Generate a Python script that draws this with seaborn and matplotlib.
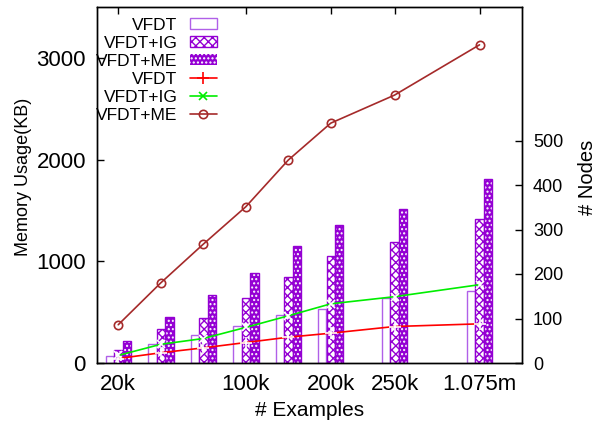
import numpy as np
import pandas as pd
import matplotlib
matplotlib.use("Agg")
import matplotlib.pyplot as plt
from matplotlib.patches import Patch, Rectangle
from matplotlib.lines import Line2D
import seaborn as sns

# ---- data ----
series = ["VFDT", "VFDT+IG", "VFDT+ME"]
x_pos = [0, 1, 2, 3, 4, 5, 6.5, 8.5]
x_labels = ["20k", "", "", "100k", "", "200k", "250k", "1.075m"]
mem_vfdt = [69, 187, 272, 361, 469, 528, 636, 711]
mem_ig = [128, 334, 439, 642, 843, 1052, 1187, 1413]
mem_me = [216, 449, 668, 888, 1150, 1357, 1514, 1806]
nodes_vfdt = [10, 23, 34, 46, 58, 67, 82, 88]
nodes_ig = [17, 42, 55, 80, 106, 133, 149, 176]
nodes_me = [86, 180, 267, 351, 456, 539, 602, 715]

sns.set_style("ticks")
plt.rcParams["font.family"] = ["Liberation Sans", "DejaVu Sans"]
plt.rcParams["hatch.linewidth"] = 1.0
for k in ["text.color", "axes.labelcolor", "xtick.color", "ytick.color", "axes.edgecolor"]:
    plt.rcParams[k] = "black"

PURPLE = "#9400d3"
LIGHT = "#b060e8"

fig = plt.figure(figsize=(5.98, 4.25), dpi=100)
ax = fig.add_axes([97/598, 62/425, (522-97)/598, (363-7)/425])

df = pd.DataFrame({
    "pos": x_pos * 3,
    "series": np.repeat(series, len(x_pos)),
    "memory": mem_vfdt + mem_ig + mem_me,
})
sns.barplot(data=df, x="pos", y="memory", hue="series", hue_order=series,
            native_scale=True, width=0.6, errorbar=None, legend=False,
            palette=[PURPLE] * 3, ax=ax, saturation=1)

conts = ax.containers
for p in conts[0]:
    p.set_facecolor("white"); p.set_edgecolor(LIGHT); p.set_linewidth(1.0)
for p in conts[1]:
    p.set_facecolor("white"); p.set_edgecolor(PURPLE); p.set_hatch("xxxx"); p.set_linewidth(1.0)
for p in conts[2]:
    p.set_facecolor(PURPLE); p.set_edgecolor("white"); p.set_hatch("...."); p.set_linewidth(0)
    ax.add_patch(Rectangle(p.get_xy(), p.get_width(), p.get_height(), fill=False,
                           edgecolor=PURPLE, linewidth=1.0, zorder=p.get_zorder() + 0.1))

ax.set_xlim(-0.5, 9.5)
ax.set_ylim(0, 3500)
ax.set_yticks([0, 1000, 2000, 3000])
tick_pos = [p for p, l in zip(x_pos, x_labels) if l]
tick_lab = [l for l in x_labels if l]
ax.set_xticks(tick_pos)
ax.set_xticklabels(tick_lab)
ax.tick_params(axis="both", direction="in", labelsize=16, length=5, width=1,
               top=True, pad=8, colors="black")
ax.set_xlabel("# Examples", fontsize=15, labelpad=4)
ax.set_ylabel("Memory Usage(KB)", fontsize=13)
ax.yaxis.set_label_coords(-0.153, 0.522)
for s in ax.spines.values():
    s.set_linewidth(1.0); s.set_color("black")

ax2 = ax.twinx()
sns.lineplot(x=x_pos, y=nodes_vfdt, ax=ax2, color="#ff0000", marker="+",
             markersize=8, markeredgewidth=1.2, linewidth=1.2)
sns.lineplot(x=x_pos, y=nodes_ig, ax=ax2, color="#00ee00", marker="x",
             markersize=6, markeredgewidth=1.2, linewidth=1.2)
sns.lineplot(x=x_pos, y=nodes_me, ax=ax2, color="#a52a2a", marker="o",
             markersize=6, markeredgewidth=1.2, linewidth=1.2,
             markerfacecolor="none", markeredgecolor="#a52a2a")
ax2.set_ylim(0, 800)
ax2.set_yticks([0, 100, 200, 300, 400, 500])
ax2.tick_params(axis="y", direction="in", labelsize=13, length=5, width=1, pad=8,
                colors="black")
ax2.set_ylabel("# Nodes", fontsize=14.5)
ax2.yaxis.set_label_coords(1.132, 0.522)
ax2.set_xlim(-0.5, 9.5)
for s in ax2.spines.values():
    s.set_linewidth(1.0); s.set_color("black")

handles = [
    Patch(facecolor="white", edgecolor=LIGHT, linewidth=1.0),
    Patch(facecolor="white", edgecolor=PURPLE, hatch="xxxx", linewidth=1.0),
    Patch(facecolor=PURPLE, edgecolor="white", hatch="....", linewidth=0),
    Line2D([], [], color="#ff0000", marker="+", markersize=8, markeredgewidth=1.2, linewidth=1.2),
    Line2D([], [], color="#00ee00", marker="x", markersize=6, markeredgewidth=1.2, linewidth=1.2),
    Line2D([], [], color="#a52a2a", marker="o", markersize=6, markeredgewidth=1.2,
           markerfacecolor="none", linewidth=1.2),
]
leg = ax2.legend(handles, ["VFDT", "VFDT+IG", "VFDT+ME", "VFDT", "VFDT+IG", "VFDT+ME"],
                 loc="upper right", bbox_to_anchor=(226/598, 1 - 9/425),
                 bbox_transform=fig.transFigure, frameon=False, markerfirst=False,
                 fontsize=12.5, handlelength=1.6, handleheight=0.6,
                 handletextpad=0.7, labelspacing=0.18, borderpad=0)

fig.savefig("out.png", dpi=100)
